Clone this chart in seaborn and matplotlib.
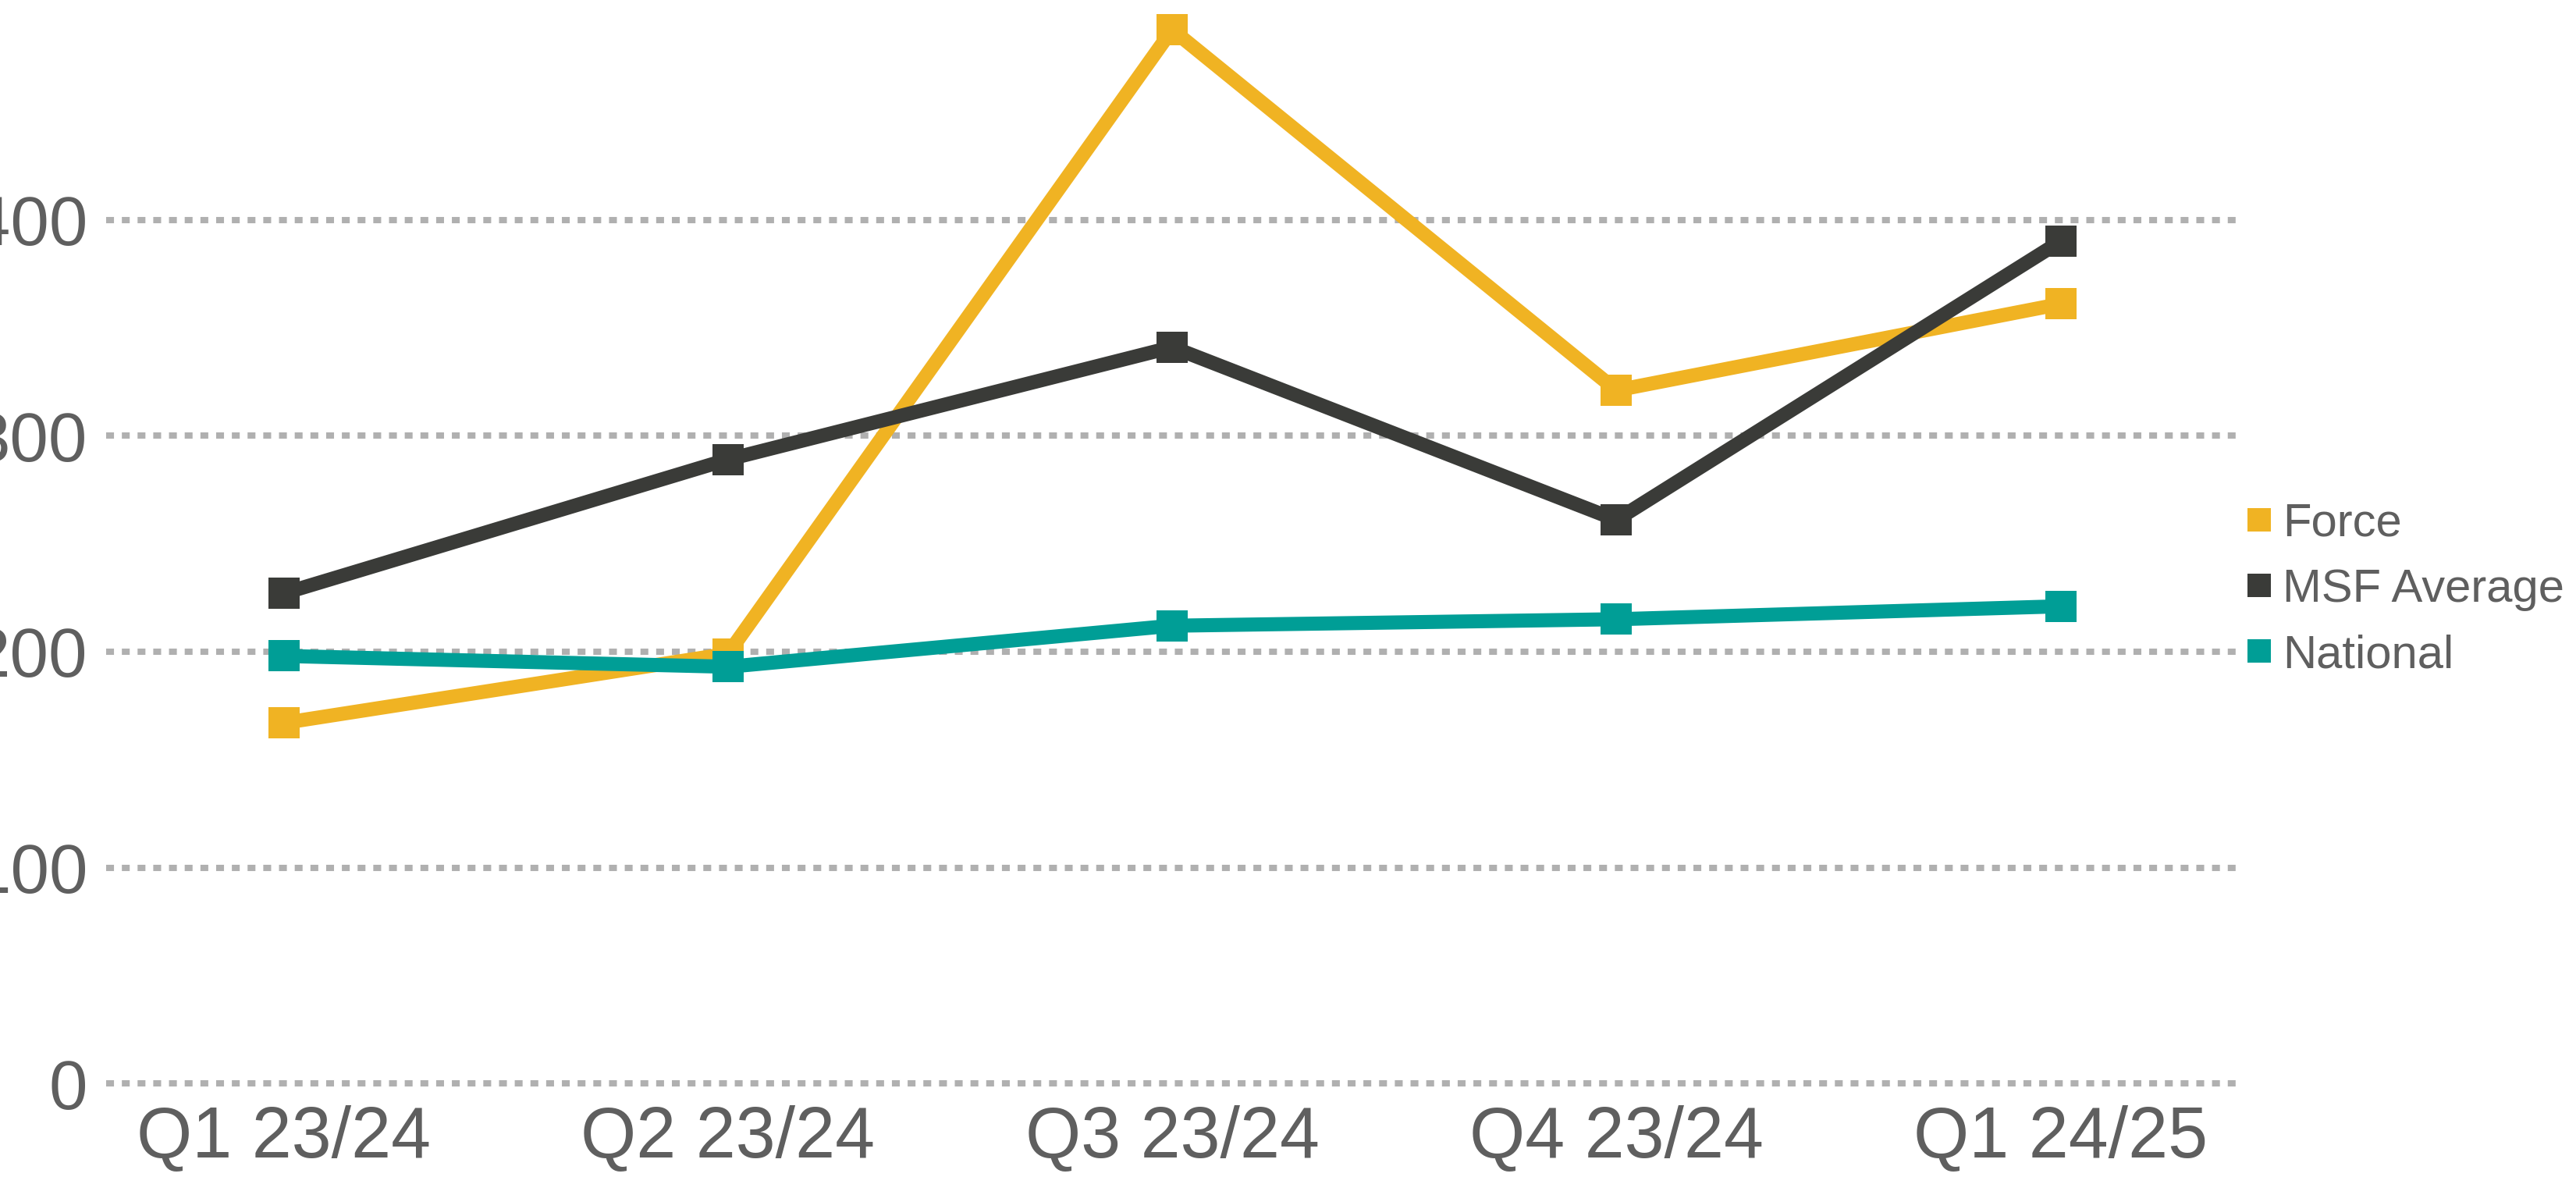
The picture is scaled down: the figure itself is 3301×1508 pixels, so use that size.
import numpy as np
import pandas as pd
import matplotlib
matplotlib.use("Agg")
import matplotlib.pyplot as plt
from matplotlib.lines import Line2D
import seaborn as sns

# Data
quarters = ["Q1 23/24", "Q2 23/24", "Q3 23/24", "Q4 23/24", "Q1 24/25"]
force = [167, 199, 488, 321, 361]
msf_average = [227, 289, 341, 261, 390]
national = [198, 193, 212, 215, 221]

series_names = ["Force", "MSF Average", "National"]
colors = ["#F0B323", "#3A3B38", "#009E96"]
y_ticks = [0, 100, 200, 300, 400]

df = pd.DataFrame({
    "quarter": quarters * 3,
    "value": force + msf_average + national,
    "series": np.repeat(series_names, len(quarters)),
})

sns.set_style("white")
plt.rcParams["font.family"] = ["Liberation Sans", "DejaVu Sans"]
text_color = "#5F5F5F"

fig = plt.figure(figsize=(33.01, 15.08), dpi=100)
ax = fig.add_axes([0.0412, 0.0794, 0.8277, 0.9174])

sns.lineplot(data=df, x="quarter", y="value", hue="series",
             palette=dict(zip(series_names, colors)), marker="s",
             markersize=29, markeredgewidth=0, linewidth=13,
             sort=False, legend=False, ax=ax, clip_on=False)

ax.set_xlim(-0.4, 4.4)
ax.set_ylim(0, 500)
ax.set_yticks(y_ticks)
ax.set_xlabel("")
ax.set_ylabel("")
ax.grid(axis="y", color="#B0B0B0", linewidth=5.8, linestyle=(0, (1.25, 1.25)))
ax.grid(axis="x", visible=False)
ax.set_axisbelow(True)
for gl in ax.get_ygridlines():
    gl.set_clip_on(False)
for s in ax.spines.values():
    s.set_visible(False)
ax.tick_params(axis="both", length=0, labelcolor=text_color)
ax.tick_params(axis="y", pad=17, labelsize=64)
ax.tick_params(axis="x", pad=20, labelsize=66)

# legend with square swatches
handles = [Line2D([], [], linestyle="none", marker="s", markersize=21,
                  markeredgewidth=0, color=c) for c in colors]
fig.legend(handles, series_names, loc="center left",
           bbox_to_anchor=(0.8725, 0.499), frameon=False, fontsize=43,
           labelcolor=text_color, handlelength=0.5, handletextpad=0.25,
           labelspacing=0.49, borderpad=0, borderaxespad=0)

fig.savefig("out.png", dpi=100)
